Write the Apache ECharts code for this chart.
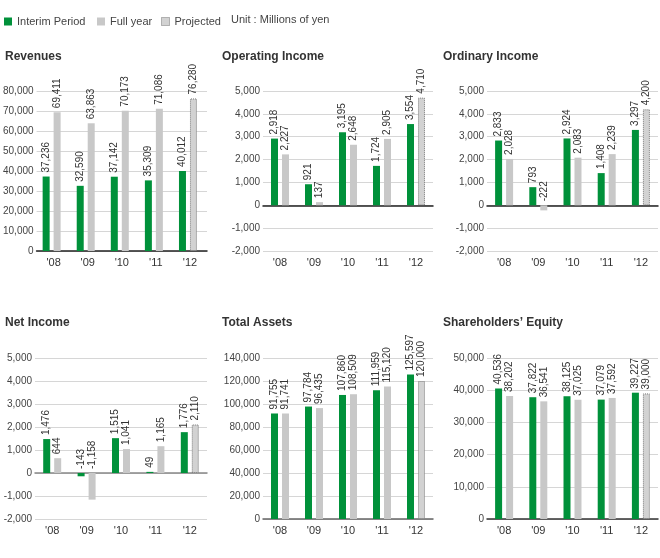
<!DOCTYPE html>
<html>
<head>
<meta charset="utf-8">
<script src="https://cdn.jsdelivr.net/npm/echarts@6/dist/echarts.min.js"></script>
<style>html,body{margin:0;padding:0;background:#fff;}#c{width:660px;height:558px;}</style>
</head>
<body>
<div id="c"></div>
<script>
var years = ["'08", "'09", "'10", "'11", "'12"];

var revenuesInterim = [37236, 32590, 37142, 35309, 40012];
var revenuesFull = [69411, 63863, 70173, 71086, 76280];
var opIncomeInterim = [2918, 921, 3195, 1724, 3554];
var opIncomeFull = [2227, 137, 2648, 2905, 4710];
var ordIncomeInterim = [2833, 793, 2924, 1408, 3297];
var ordIncomeFull = [2028, -222, 2083, 2239, 4200];
var netIncomeInterim = [1476, -143, 1515, 49, 1776];
var netIncomeFull = [644, -1158, 1041, 1165, 2110];
var assetsInterim = [91755, 97784, 107860, 111959, 125597];
var assetsFull = [91741, 96435, 108509, 115120, 120000];
var equityInterim = [40536, 37822, 38125, 37079, 39227];
var equityFull = [38202, 36541, 37025, 37592, 39000];

var titles = ["Revenues", "Operating Income", "Ordinary Income", "Net Income", "Total Assets", "Shareholders\u2019 Equity"];
var interimSets = [revenuesInterim, opIncomeInterim, ordIncomeInterim, netIncomeInterim, assetsInterim, equityInterim];
var fullSets = [revenuesFull, opIncomeFull, ordIncomeFull, netIncomeFull, assetsFull, equityFull];
var yMins = [0, -2000, -2000, -2000, 0, 0];
var yMaxs = [80000, 5000, 5000, 5000, 140000, 50000];
var yIntervals = [10000, 1000, 1000, 1000, 20000, 10000];
var projectedIndex = 4; // '12 full-year is projected
var legendNames = ['Interim Period', 'Full year', 'Projected'];
var unitText = 'Unit : Millions of yen';

var FONT = 'Arial, "Liberation Sans", Helvetica, sans-serif';
var GREEN = '#00913a', GRAY = '#c8c8c8';
var PROJ_STYLE = {color: '#d2d2d2', borderColor: '#777', borderWidth: 1, borderType: 'dotted'};
var gridBoxes = [
  {left: 35, top: 91, width: 172, height: 160},
  {left: 263, top: 91, width: 170, height: 160},
  {left: 487, top: 91, width: 171, height: 160},
  {left: 35, top: 358, width: 172, height: 161},
  {left: 263, top: 358, width: 170, height: 161},
  {left: 487, top: 358, width: 171, height: 161}
];
var titlePos = [[5, 51], [222, 51], [443, 51], [5, 317], [222, 317], [443, 317]];
var zeroLineColors = ['#222', '#222', '#222', '#888', '#666', '#333'];
var legendLefts = [4, 97, 161];
var legendStyles = [{color: GREEN}, {color: GRAY}, PROJ_STYLE];

function fmt(v) { return Number(v).toLocaleString('en-US'); }

var labelCfg = {
  show: true, position: 'top', rotate: 90, align: 'left', verticalAlign: 'middle',
  distance: 4, fontSize: 10, color: '#333', fontFamily: FONT,
  formatter: function (p) { return fmt(p.value); }
};

var option = {
  animation: false,
  backgroundColor: '#fff',
  textStyle: {fontFamily: FONT},
  title: titles.map(function (t, i) {
    return {text: t, left: titlePos[i][0], top: titlePos[i][1], padding: 0,
      textStyle: {fontSize: 12, fontWeight: 'bold', color: '#333', fontFamily: FONT}};
  }),
  legend: legendNames.map(function (n, i) {
    return {left: legendLefts[i], top: 16, padding: 0, itemWidth: 8, itemHeight: 8, icon: 'rect',
      selectedMode: false,
      textStyle: {fontSize: 11, color: '#444', fontFamily: FONT, padding: [0, 0, 0, 0]},
      data: [{name: n, itemStyle: legendStyles[i]}]};
  }),
  graphic: [{type: 'text', left: 231, top: 14, style: {text: unitText, fontSize: 11, fill: '#444', fontFamily: FONT}}],
  grid: gridBoxes.map(function (g) { return {left: g.left, top: g.top, width: g.width, height: g.height}; }),
  xAxis: gridBoxes.map(function (g, i) {
    return {type: 'category', gridIndex: i, data: years,
      axisLine: {onZero: true, lineStyle: {color: zeroLineColors[i], width: 1.5}},
      axisTick: {show: false},
      axisLabel: {fontSize: 11, color: '#333', margin: 6, fontFamily: FONT}};
  }),
  yAxis: gridBoxes.map(function (g, i) {
    return {type: 'value', gridIndex: i, min: yMins[i], max: yMaxs[i], interval: yIntervals[i],
      axisLine: {show: false}, axisTick: {show: false},
      splitLine: {lineStyle: {color: '#d6d6d6', width: 1}},
      axisLabel: {fontSize: 10, color: '#444', margin: 3, fontFamily: FONT, formatter: fmt}};
  }),
  series: []
};

for (var i = 0; i < 6; i++) {
  option.series.push({
    name: 'Interim Period', type: 'bar', xAxisIndex: i, yAxisIndex: i,
    data: interimSets[i], barWidth: 7, barGap: '57%',
    itemStyle: {color: GREEN}, label: labelCfg
  });
  option.series.push({
    name: 'Full year', type: 'bar', xAxisIndex: i, yAxisIndex: i,
    data: fullSets[i].map(function (v, k) {
      if (k === projectedIndex) { return {value: v, itemStyle: PROJ_STYLE}; }
      return v;
    }),
    barWidth: 7, barGap: '57%',
    itemStyle: {color: GRAY}, label: labelCfg
  });
}
option.series.push({name: 'Projected', type: 'bar', xAxisIndex: 0, yAxisIndex: 0, data: [],
  itemStyle: PROJ_STYLE});

var chart = echarts.init(document.getElementById('c'), null, {renderer: 'canvas'});
chart.setOption(option);
</script>
</body>
</html>
